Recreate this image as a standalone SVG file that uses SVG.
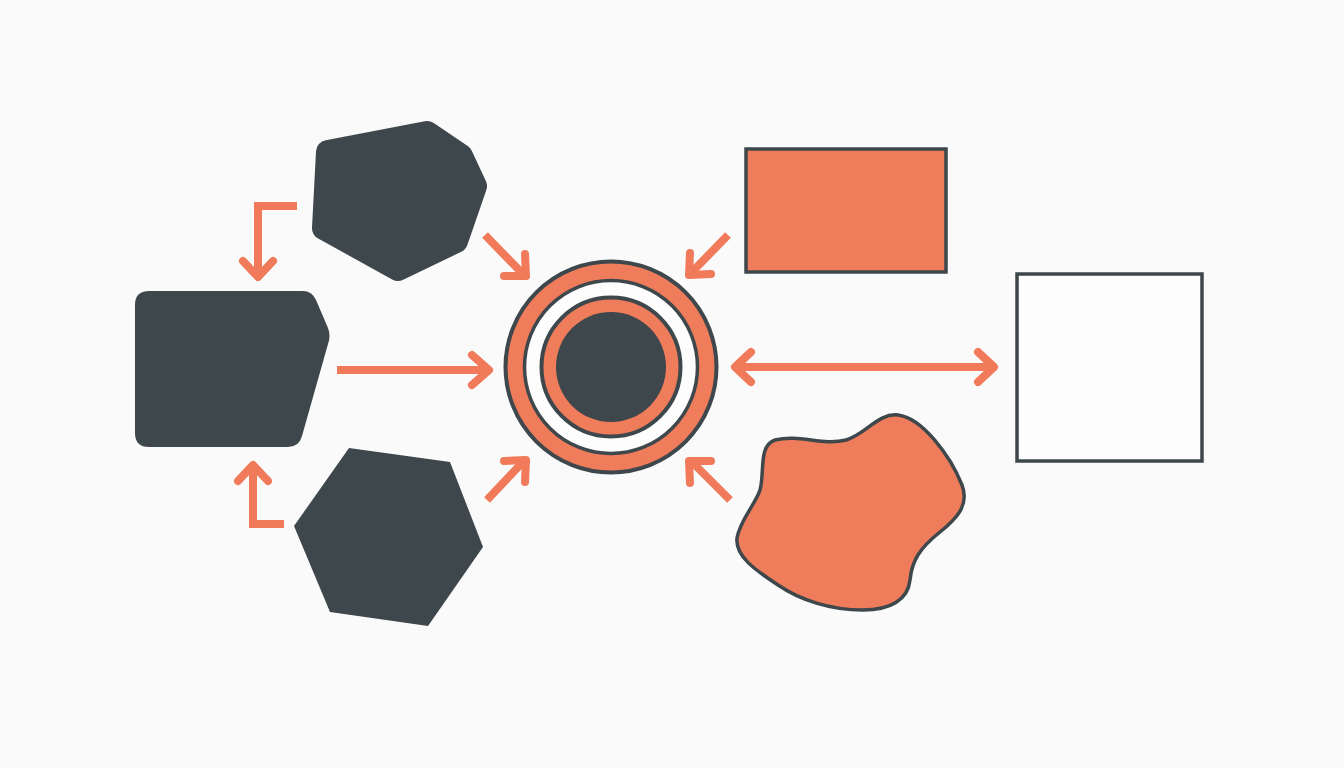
<svg xmlns="http://www.w3.org/2000/svg" width="1344" height="768" viewBox="0 0 1344 768">
<style>
.dark{fill:#3d474c}
.darkr{fill:#3d474c;stroke:#3d474c;stroke-width:24;stroke-linejoin:round}
.org{fill:#ef7c5a;stroke:#3d474c;stroke-width:3.5}
.line{fill:none;stroke:#f07a5a;stroke-width:8}
.head{fill:none;stroke:#f07a5a;stroke-width:8;stroke-linecap:round;stroke-linejoin:round}
</style>
<rect width="1344" height="768" fill="#fafafa"/>
<g id="connectors">
  <path class="line" d="M297,206 H258 V272"/>
  <path class="head" d="M243,261 L258,277 L273,261"/>
  <path class="line" d="M337,370 H488"/>
  <path class="head" d="M472,355 L489,370 L472,385"/>
  <path class="line" d="M284,524 H253 V468"/>
  <path class="head" d="M238,481 L253,465 L268,481"/>
  <path class="line" d="M485,235 L522,273"/>
  <path class="head" d="M525,254 L526,276 L504,276"/>
  <path class="line" d="M728,235 L692,272"/>
  <path class="head" d="M690,253 L689,275 L711,274"/>
  <path class="line" d="M487,500 L522,463"/>
  <path class="head" d="M504,461 L526,460 L525,482"/>
  <path class="line" d="M730,500 L693,463"/>
  <path class="head" d="M711,461 L689,461 L690,483"/>
  <path class="line" d="M738,367 H991"/>
  <path class="head" d="M751,352 L735,367 L751,382"/>
  <path class="head" d="M978,352 L994,367 L978,382"/>
</g>
<g id="node-top">
  <polygon class="darkr" points="328,152 427,133 461,156 475,186 456,241 398,269 324,228"/>
</g>
<g id="node-left">
  <path class="dark" d="M149,291 H303 Q312,291 316,300 L328,328 Q331,336 328,344 L302,436 Q299,447 288,447 H149 Q135,447 135,433 V305 Q135,291 149,291 Z"/>
</g>
<g id="node-bottom">
  <polygon class="dark" points="349,448 450,462 483,547 428,626 330,612 294,526"/>
</g>
<g id="node-center">
  <circle cx="611" cy="367" r="105.5" fill="#ef7c5a" stroke="#3d474c" stroke-width="4"/>
  <circle cx="611" cy="367" r="86.5" fill="#fdfdfd" stroke="#3d474c" stroke-width="3.5"/>
  <circle cx="611" cy="367" r="69.5" fill="#ef7c5a" stroke="#3d474c" stroke-width="4"/>
  <circle cx="611" cy="367" r="55" class="dark"/>
</g>
<g id="node-rect">
  <rect class="org" x="746" y="149" width="200" height="123"/>
</g>
<g id="node-square">
  <rect x="1017" y="274" width="185" height="187" fill="#fdfdfd" stroke="#3d474c" stroke-width="3.5"/>
</g>
<g id="node-blob">
  <path class="org" d="M775,440 C800,434 822,446 846,440 C866,434 878,413 898,415 C922,418 950,455 962,485 C970,506 955,520 940,532 C920,548 912,560 910,580 C908,600 890,610 863,610 C830,610 800,600 778,585 C755,570 735,556 737,538 C740,520 755,505 760,490 C765,472 758,446 775,440 Z"/>
</g>
</svg>
